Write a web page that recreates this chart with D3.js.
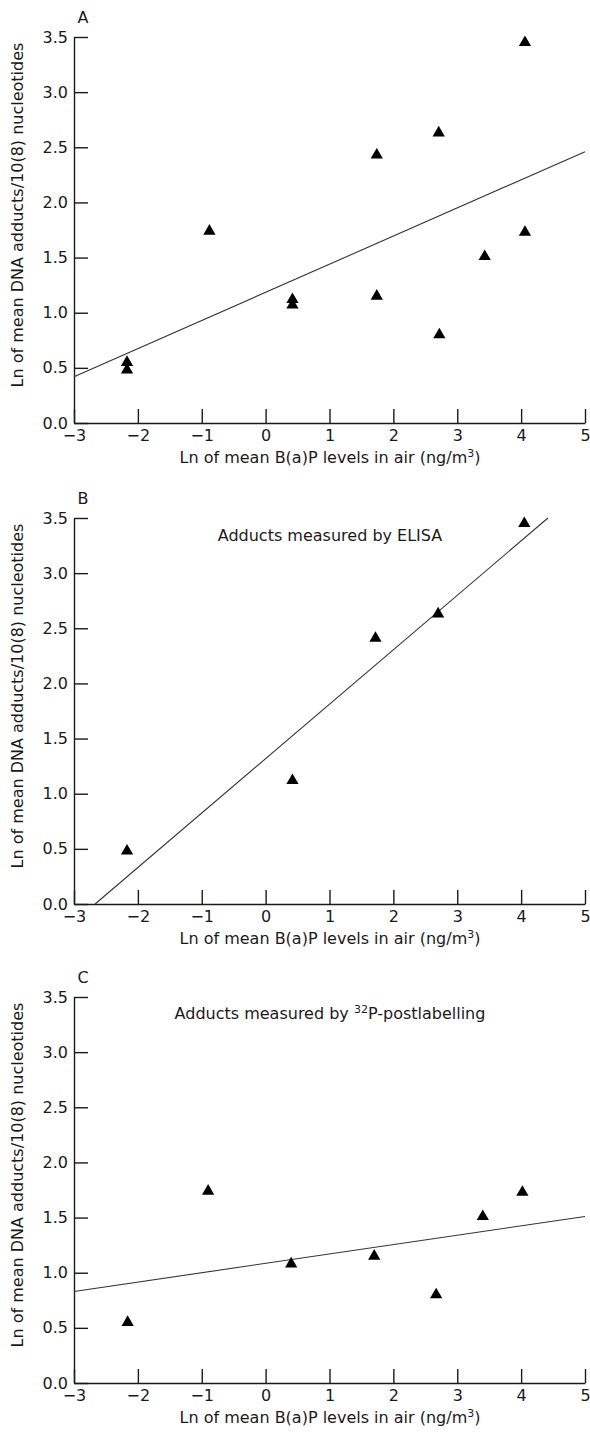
<!DOCTYPE html>
<html>
<head>
<meta charset="utf-8">
<script src="https://cdn.jsdelivr.net/npm/d3@7"></script>
<style>
  body { margin: 0; background: #fff; }
  svg { display: block; }
</style>
</head>
<body>
<div id="chart"></div>
<script>
// Axis ticks shared by all three panels
const xTicks = [-3, -2, -1, 0, 1, 2, 3, 4, 5];
const yTicks = [0, 0.5, 1, 1.5, 2, 2.5, 3, 3.5];

const panelLetters = ['A', 'B', 'C'];

// Panel A: all adducts
const aX = [-2.17, -2.17, -0.88, 0.42, 0.42, 1.74, 1.74, 2.71, 2.72, 3.43, 4.06, 4.06];
const aY = [0.55, 0.48, 1.74, 1.12, 1.07, 2.43, 1.15, 2.63, 0.80, 1.51, 3.45, 1.73];
const fitAX = [-3, 5];
const fitAY = [0.42, 2.46];

// Panel B: ELISA
const bX = [-2.17, 0.42, 1.72, 2.70, 4.05];
const bY = [0.48, 1.12, 2.41, 2.63, 3.45];
const fitBX = [-2.67, 4.42];
const fitBY = [0, 3.5];

// Panel C: 32P-postlabelling
const cX = [-2.16, -0.9, 0.4, 1.70, 2.67, 3.40, 4.02];
const cY = [0.55, 1.74, 1.08, 1.15, 0.80, 1.51, 1.73];
const fitCX = [-3, 5];
const fitCY = [0.83, 1.51];

const pointsX = [aX, bX, cX];
const pointsY = [aY, bY, cY];
const fitsX = [fitAX, fitBX, fitCX];
const fitsY = [fitAY, fitBY, fitCY];

const width = 590, height = 1436;
const font = 'DejaVu Sans, sans-serif';
const ink = '#1a1a1a';

const svg = d3.select('#chart')
  .append('svg')
    .attr('width', width)
    .attr('height', height);

svg.append('rect')
  .attr('width', width)
  .attr('height', height)
  .attr('fill', '#fff');

const panelTops = [37, 518, 997];
const plotH = 386;

const x = d3.scaleLinear()
  .domain([-3, 5])
  .range([74, 585]);

panelTops.forEach((top, i) => {
  const bottom = top + plotH;
  const y = d3.scaleLinear()
    .domain([0, 3.5])
    .range([bottom, top]);

  const g = svg.append('g');

  // X axis (ticks point inward)
  const xAxis = g.append('g')
    .attr('transform', `translate(0,${bottom})`)
    .call(d3.axisBottom(x)
      .tickValues(xTicks)
      .tickSizeInner(-14)
      .tickSizeOuter(0)
      .tickPadding(7));

  // Y axis
  const yAxis = g.append('g')
    .attr('transform', `translate(${x(-3)},0)`)
    .call(d3.axisLeft(y)
      .tickValues(yTicks)
      .tickFormat(d3.format('.1f'))
      .tickSizeInner(-14)
      .tickSizeOuter(0)
      .tickPadding(6));

  [xAxis, yAxis].forEach(ax => {
    ax.selectAll('path.domain, line')
      .attr('stroke', ink)
      .attr('stroke-width', 1.4);
    ax.selectAll('text')
      .attr('fill', ink)
      .style('font-family', font)
      .style('font-size', '16px');
  });

  // Panel letter
  g.append('text')
    .attr('x', 83)
    .attr('y', top - 14)
    .attr('text-anchor', 'middle')
    .style('font-family', font)
    .style('font-size', '16px')
    .attr('fill', ink)
    .text(panelLetters[i]);

  // Y axis label
  g.append('text')
    .attr('transform', `translate(23,${(top + bottom) / 2 - 15}) rotate(-90)`)
    .attr('text-anchor', 'middle')
    .style('font-family', font)
    .style('font-size', '16px')
    .attr('fill', ink)
    .text('Ln of mean DNA adducts/10(8) nucleotides');

  // X axis label
  const xl = g.append('text')
    .attr('x', 330)
    .attr('y', bottom + 40)
    .attr('text-anchor', 'middle')
    .style('font-family', font)
    .style('font-size', '16px')
    .attr('fill', ink);
  xl.append('tspan').text('Ln of mean B(a)P levels in air (ng/m');
  xl.append('tspan').attr('dy', -6).style('font-size', '11px').text('3');
  xl.append('tspan').attr('dy', 6).text(')');

  // Subtitles for B and C
  if (i === 1) {
    g.append('text')
      .attr('x', 330)
      .attr('y', top + 23)
      .attr('text-anchor', 'middle')
      .style('font-family', font)
      .style('font-size', '16px')
      .attr('fill', ink)
      .text('Adducts measured by ELISA');
  }
  if (i === 2) {
    const st = g.append('text')
      .attr('x', 330)
      .attr('y', top + 22)
      .attr('text-anchor', 'middle')
      .style('font-family', font)
      .style('font-size', '16px')
      .attr('fill', ink);
    st.append('tspan').text('Adducts measured by ');
    st.append('tspan').attr('dy', -6).style('font-size', '11px').text('32');
    st.append('tspan').attr('dy', 6).text('P-postlabelling');
  }

  // Regression line
  const line = d3.line()
    .x(d => x(d[0]))
    .y(d => y(d[1]));
  g.append('path')
    .datum(d3.zip(fitsX[i], fitsY[i]))
    .attr('fill', 'none')
    .attr('stroke', '#333')
    .attr('stroke-width', 1.1)
    .attr('d', line);

  // Triangle markers
  g.selectAll('.pt')
    .data(d3.zip(pointsX[i], pointsY[i]))
    .join('path')
      .attr('class', 'pt')
      .attr('transform', d => `translate(${x(d[0])},${y(d[1])})`)
      .attr('d', d3.symbol(d3.symbolTriangle, 65))
      .attr('fill', '#000');
});
</script>
</body>
</html>
